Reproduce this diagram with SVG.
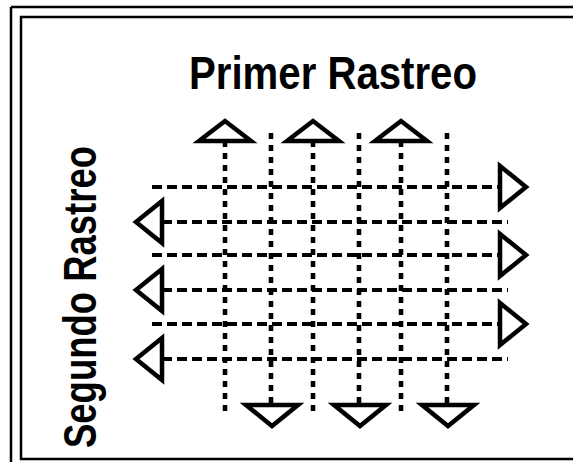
<svg xmlns="http://www.w3.org/2000/svg" width="573" height="462" viewBox="0 0 573 462">
<style>
.frame{fill:none;stroke:#000;stroke-width:2.5}
.lbl{font-family:"Liberation Sans",Arial,sans-serif;font-weight:bold;font-size:47px;fill:#000}
.h{stroke:#000;stroke-width:4.2;stroke-dasharray:10 5;fill:none}
.v{stroke:#000;stroke-width:4.6;stroke-dasharray:6 6;fill:none}
.tri{fill:#fff;stroke:#000;stroke-width:4.5;stroke-linejoin:miter}
</style>
<defs>
<polygon id="up" class="tri" points="0,-10 -26,10 26,10"/>
<polygon id="down" class="tri" points="-26,-10 26,-10 0,11"/>
<polygon id="right" class="tri" points="-13,-21 -13,21 13,0"/>
<polygon id="left" class="tri" points="13,-21 13,21 -13,0"/>
</defs>
<rect width="573" height="462" fill="#fff"/>
<g id="frame">
<line x1="11" y1="7" x2="573" y2="7" class="frame"/>
<line x1="11" y1="7" x2="11" y2="462" class="frame"/>
<polyline points="573,17 21,17 21,459 573,459" class="frame"/>
</g>
<g id="title"><text class="lbl" x="333" y="89" text-anchor="middle" textLength="288" lengthAdjust="spacingAndGlyphs">Primer Rastreo</text></g>
<g id="side"><text class="lbl" transform="translate(96,297) rotate(-90)" x="0" y="0" text-anchor="middle" textLength="302" lengthAdjust="spacingAndGlyphs">Segundo Rastreo</text></g>
<g id="connectors">
<line class="v" x1="225" y1="141" x2="225" y2="412"/>
<line class="v" x1="271" y1="133" x2="271" y2="405"/>
<line class="v" x1="313" y1="141" x2="313" y2="412"/>
<line class="v" x1="359" y1="133" x2="359" y2="405"/>
<line class="v" x1="401" y1="141" x2="401" y2="412"/>
<line class="v" x1="447" y1="133" x2="447" y2="405"/>
<line class="h" x1="152" y1="187" x2="500" y2="187"/>
<line class="h" x1="162" y1="222" x2="508" y2="222"/>
<line class="h" x1="152" y1="255" x2="500" y2="255"/>
<line class="h" x1="162" y1="290" x2="508" y2="290"/>
<line class="h" x1="152" y1="324" x2="500" y2="324"/>
<line class="h" x1="162" y1="359" x2="508" y2="359"/>
</g>
<g id="arrow-up-1"><use href="#up" x="225" y="131"/></g>
<g id="arrow-up-2"><use href="#up" x="313" y="131"/></g>
<g id="arrow-up-3"><use href="#up" x="401" y="131"/></g>
<g id="arrow-down-1"><use href="#down" x="272" y="415"/></g>
<g id="arrow-down-2"><use href="#down" x="360" y="415"/></g>
<g id="arrow-down-3"><use href="#down" x="448" y="415"/></g>
<g id="arrow-right-1"><use href="#right" x="513" y="187"/></g>
<g id="arrow-right-2"><use href="#right" x="513" y="255"/></g>
<g id="arrow-right-3"><use href="#right" x="513" y="324"/></g>
<g id="arrow-left-1"><use href="#left" x="149" y="222"/></g>
<g id="arrow-left-2"><use href="#left" x="149" y="290"/></g>
<g id="arrow-left-3"><use href="#left" x="149" y="359"/></g>
</svg>
